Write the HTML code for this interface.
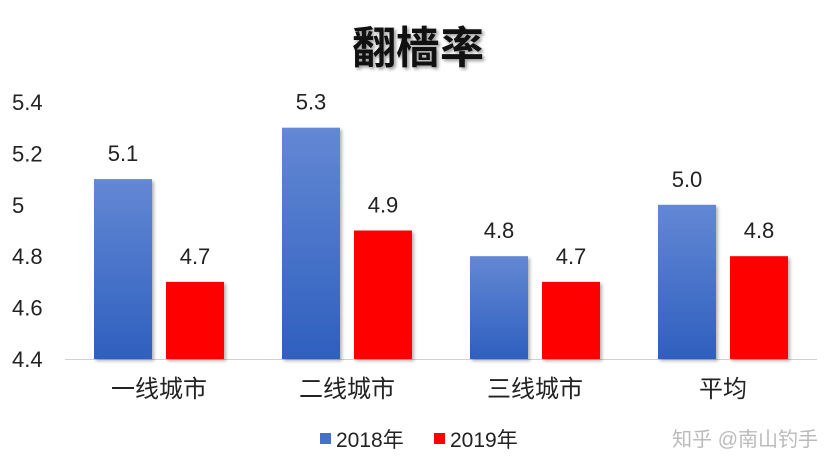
<!DOCTYPE html>
<html><head><meta charset="utf-8"><style>
body{margin:0;background:#fff;}
svg text{font-family:"Liberation Sans","Noto Sans CJK SC",sans-serif;}
</style></head><body>
<svg id="c" width="839" height="471" xmlns="http://www.w3.org/2000/svg">
<defs>
<linearGradient id="gb" x1="0" y1="0" x2="0" y2="1"><stop offset="0" stop-color="#6388d4"/><stop offset="1" stop-color="#2f5fbf"/></linearGradient>
<filter id="sh" x="-20%" y="-20%" width="140%" height="140%"><feDropShadow dx="2" dy="2" stdDeviation="1.5" flood-color="#000" flood-opacity="0.3"/></filter>
</defs>
<text x="418" y="63" text-anchor="middle" font-size="44" font-weight="bold" fill="#111" style="text-shadow:2px 2px 3px rgba(0,0,0,0.4)">翻樯率</text>
<g id="plot"></g>
<g>
<rect x="320" y="433" width="11" height="11" fill="#4472c4"/>
<text x="336" y="447" font-size="21" fill="#222">2018年</text>
<rect x="434" y="433" width="11" height="11" fill="#ff0000"/>
<text x="450" y="447" font-size="21" fill="#222">2019年</text>
</g>
<text x="818" y="446" text-anchor="end" font-size="20" fill="#bbb">知乎 @南山钓手</text>
</svg>
<script>
const categories=["一线城市","二线城市","三线城市","平均"];
const s2018=[5.1,5.3,4.8,5.0];
const s2019=[4.7,4.9,4.7,4.8];
const ticks=[4.4,4.6,4.8,5,5.2,5.4];
const ns="http://www.w3.org/2000/svg";
const g=document.getElementById("plot");
const x0=65,pw=752,bw=58;
const y=v=>359-(v-4.4)*257;
const gx=i=>x0+pw/categories.length*(i+0.5);
function mk(t,a){const e=document.createElementNS(ns,t);for(const k in a)e.setAttribute(k,a[k]);g.appendChild(e);return e;}
ticks.forEach(t=>{const e=mk("text",{x:12,y:y(t)+8,"font-size":22,fill:"#222"});e.textContent=String(t);

});
const ax=mk("line",{x1:x0,x2:x0+pw,y1:359.5,y2:359.5,stroke:"#d0d0d0"});


categories.forEach((c,i)=>{
 const cx=gx(i);
 [[s2018[i],cx-65,"url(#gb)","bar-2018"],[s2019[i],cx+7,"#ff0000","bar-2019"]].forEach(([v,bx,f,n])=>{
  const r=mk("rect",{x:bx,y:y(v),width:bw,height:359-y(v),fill:f,filter:"url(#sh)"});
  
  
  const t=mk("text",{x:bx+bw/2,y:y(v)-18,"text-anchor":"middle","font-size":22,fill:"#222"});
  t.textContent=v.toFixed(1);
  
  
 });
 const l=mk("text",{x:cx,y:397,"text-anchor":"middle","font-size":24,fill:"#222"});
 l.textContent=c;
 
 
});
</script>
</body></html>
